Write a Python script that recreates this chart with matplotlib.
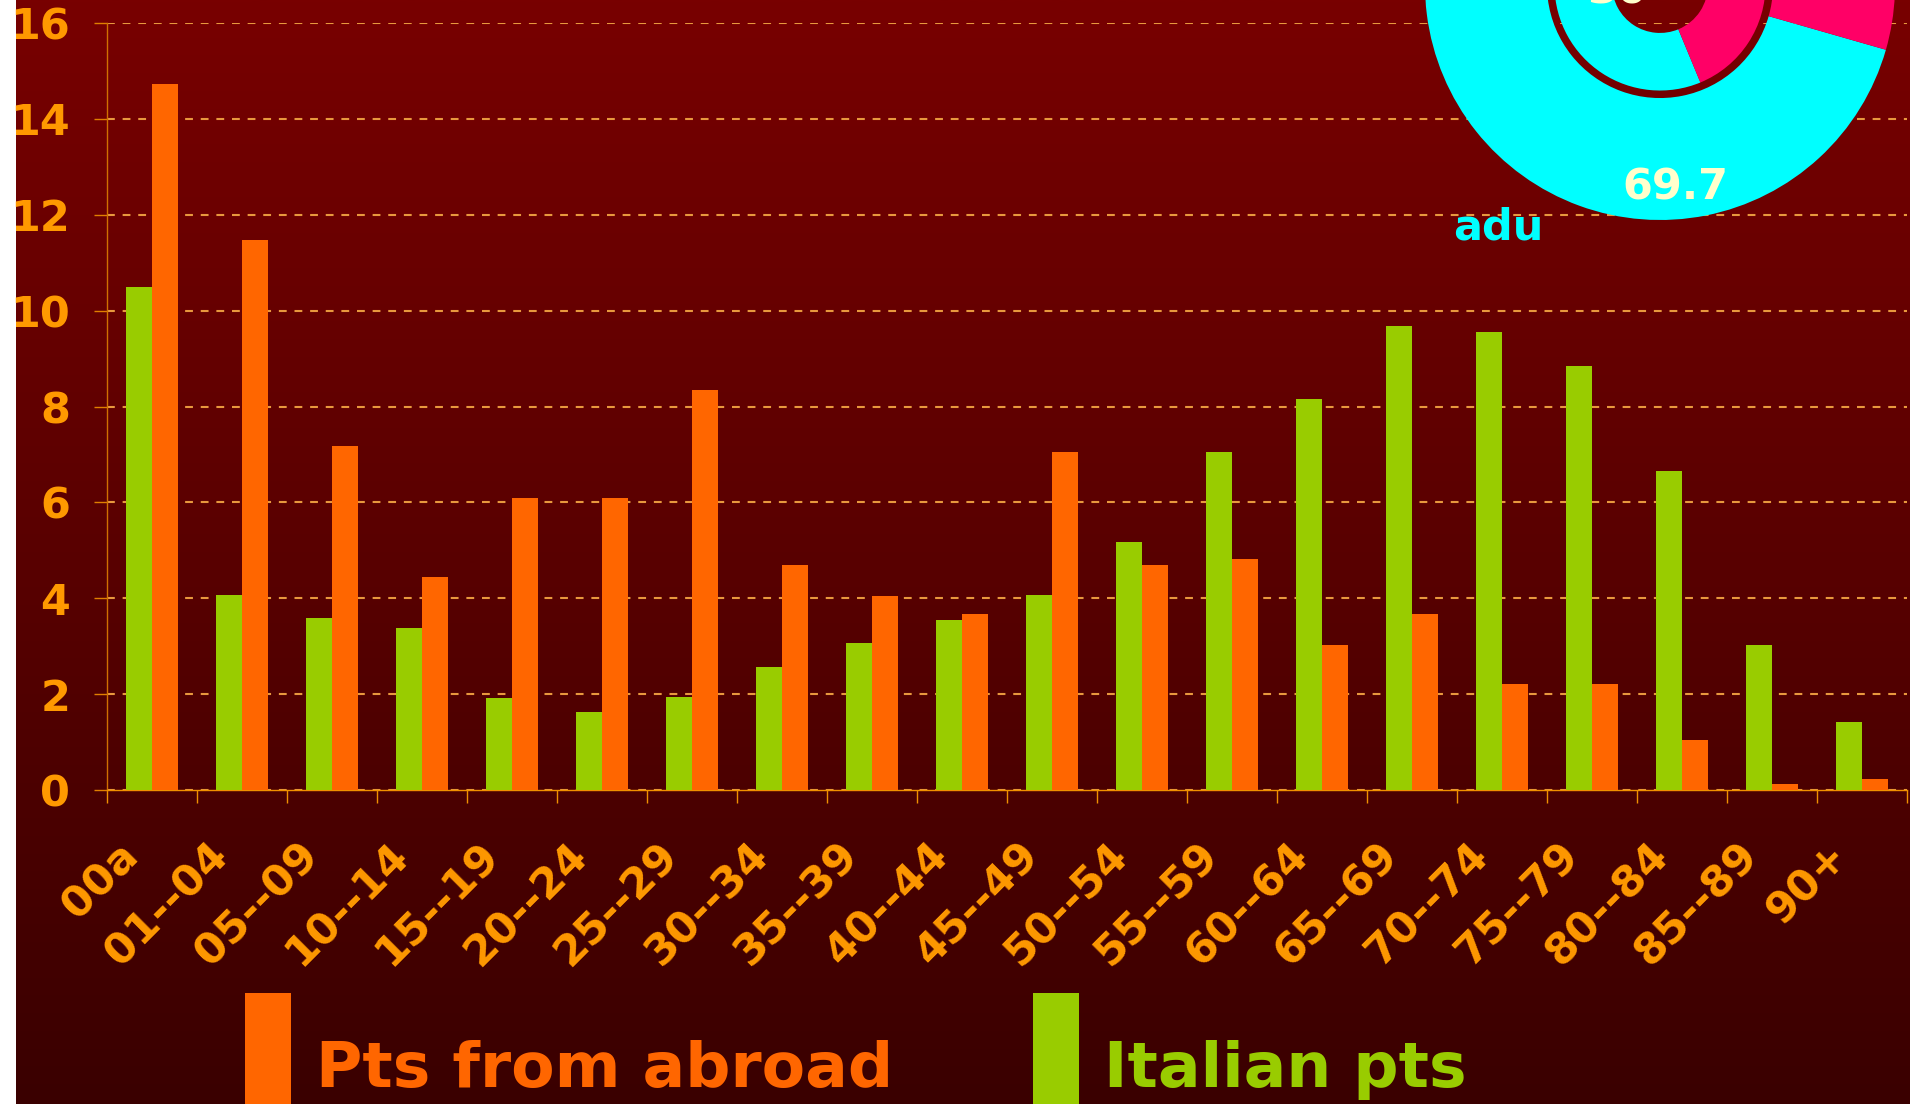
import numpy as np
import matplotlib
matplotlib.use("Agg")
import matplotlib.pyplot as plt
from matplotlib.transforms import ScaledTranslation

# age classes and share of patients (%) in each class
age_classes = ["00a", "01--04", "05--09", "10--14", "15--19", "20--24", "25--29",
               "30--34", "35--39", "40--44", "45--49", "50--54", "55--59", "60--64",
               "65--69", "70--74", "75--79", "80--84", "85--89", "90+"]
italian_pts = [10.5, 4.06, 3.58, 3.38, 1.91, 1.63, 1.95, 2.56, 3.06, 3.54,
               4.07, 5.17, 7.05, 8.16, 9.68, 9.55, 8.85, 6.65, 3.02, 1.42]
abroad_pts = [14.72, 11.47, 7.17, 4.44, 6.10, 6.10, 8.35, 4.69, 4.04, 3.67,
              7.05, 4.69, 4.82, 3.02, 3.67, 2.21, 2.21, 1.04, 0.13, 0.23]
y_ticks = [0, 2, 4, 6, 8, 10, 12, 14, 16]

# doughnut inset (adults vs children), only partly inside the picture
outer_ring = [69.7, 30.3]
inner_ring = [62.0, 38.0]
ring_colors = ["#00ffff", "#ff0066"]
outer_label = "69.7"
inner_label = "30"
group_label = "adu"

ORANGE = "#ff6600"
GREEN = "#99cc00"
TICK_COL = "#ff9900"
W, H = 1910, 1104

fig = plt.figure(figsize=(W / 100, H / 100), dpi=100, facecolor="white")

# dark red gradient background
bg = fig.add_axes([16 / W, 0, 1 - 16 / W, 1], zorder=-10)
shade = np.linspace(0x78, 0x3a, 256) / 255.0
grad = np.zeros((256, 1, 3))
grad[:, 0, 0] = shade
bg.imshow(grad, aspect="auto", interpolation="bilinear")
bg.axis("off")

ax = fig.add_axes([107 / W, 1 - 790 / H, 1800 / W, 767 / H])
ax.set_facecolor("none")

x = np.arange(len(age_classes))
bw = 0.29
ax.bar(x + bw / 2, abroad_pts, bw, color=ORANGE, label="Pts from abroad", zorder=3)
ax.bar(x - bw / 2, italian_pts, bw, color=GREEN, label="Italian pts", zorder=3)

ax.set_xlim(-0.5, len(age_classes) - 0.5)
ax.set_ylim(0, 16)
ax.set_yticks(y_ticks)
ax.set_yticklabels([str(v) for v in y_ticks], fontsize=31, fontweight="bold", color=TICK_COL)
ax.tick_params(axis="y", length=9.4, width=1.0, color="#e08000", pad=17)
ax.yaxis.grid(True, color="#e8983e", linewidth=1.5, linestyle=(0, (3.75, 3.75)), zorder=1)
ax.set_axisbelow(True)

ax.set_xticks(x)
ax.set_xticks(np.arange(-0.5, len(age_classes)), minor=True)
ax.tick_params(axis="x", which="major", length=0, pad=32)
ax.tick_params(axis="x", which="minor", length=9.4, width=1.0, color="#f09000")
ax.set_xticklabels(age_classes, fontsize=31, fontweight="bold", color=TICK_COL,
                   rotation=45, ha="right", va="top", rotation_mode="anchor")
shift = ScaledTranslation(-0.35, 0, fig.dpi_scale_trans)
for lab in ax.get_xticklabels():
    lab.set_transform(lab.get_transform() + shift)

for s in ["top", "right"]:
    ax.spines[s].set_visible(False)
ax.spines["left"].set_color("#d07000")
ax.spines["bottom"].set_color("#f09000")
ax.spines["left"].set_linewidth(1.0)
ax.spines["bottom"].set_linewidth(1.0)

fig.legend(loc="upper left", bbox_to_anchor=(245 / W, 1 - 993 / H), ncol=2,
           frameon=False, borderpad=0, borderaxespad=0,
           prop={"size": 45.5, "weight": "bold"},
           handlelength=0.73, handleheight=3.3, handletextpad=0.4,
           columnspacing=2.2)
leg = fig.legends[0]
for t, c in zip(leg.get_texts(), [ORANGE, GREEN]):
    t.set_color(c)

# doughnut, centre slightly above the top edge
R = 235
cx, cy = 1660, H + 15
pax = fig.add_axes([(cx - R) / W, (cy - R) / H, 2 * R / W, 2 * R / H])
pax.pie(outer_ring, radius=1.0, colors=ring_colors, startangle=-16, counterclock=False,
        wedgeprops=dict(width=1.0 - 0.481, linewidth=0))
pax.pie(inner_ring, radius=0.449, colors=ring_colors, startangle=-67.5, counterclock=False,
        wedgeprops=dict(width=0.449 - 0.204, linewidth=0))
pax.set_xlim(-1, 1)
pax.set_ylim(-1, 1)
pax.axis("off")

fig.text(1675 / W, 1 - 187 / H, outer_label, color="#ffffcc", fontsize=31,
         fontweight="bold", ha="center", va="center")
fig.text(1617 / W, 1 - 3 / H, inner_label, color="#ffffcc", fontsize=31,
         fontweight="bold", ha="center", va="baseline")
fig.text(1453 / W, 1 - 240 / H, group_label, color="#00ffff", fontsize=31,
         fontweight="bold", ha="left", va="baseline")

fig.savefig("out.png", dpi=100, facecolor=fig.get_facecolor())
